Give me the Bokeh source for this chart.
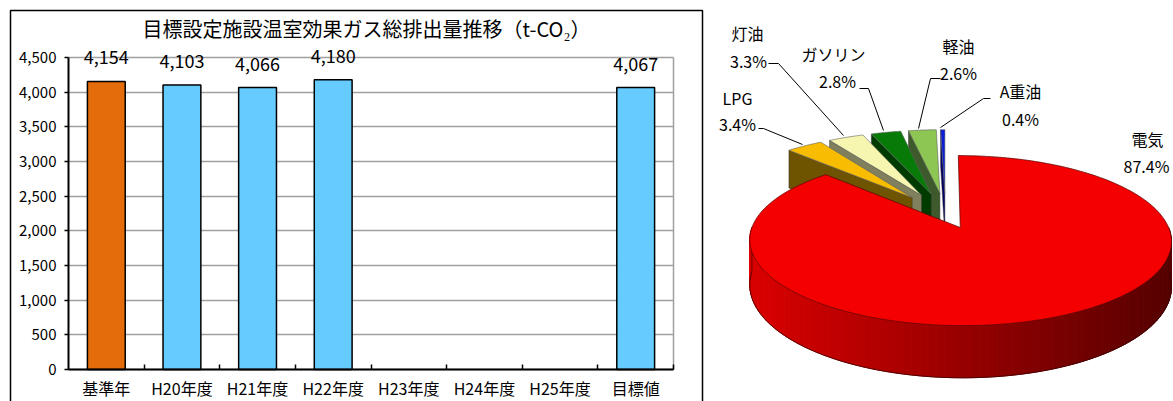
import math
from bokeh.plotting import figure
from bokeh.models import (Range1d, FixedTicker, LinearAxis, NumeralTickFormatter, LabelSet,
                          ColumnDataSource, Grid)
from bokeh.core.properties import value
from bokeh.embed import file_html
from bokeh.resources import INLINE

FONT = "Noto Sans CJK JP"

# ---------------- data ----------------
title_text = "目標設定施設温室効果ガス総排出量推移（t-CO₂）"
categories = ["基準年", "H20年度", "H21年度", "H22年度", "H23年度", "H24年度", "H25年度", "目標値"]
emissions = [4154, 4103, 4066, 4180, None, None, None, 4067]
bar_colors = ["#E46C0A", "#66CCFF", "#66CCFF", "#66CCFF", None, None, None, "#66CCFF"]
y_ticks = [0, 500, 1000, 1500, 2000, 2500, 3000, 3500, 4000, 4500]

pie_labels = ["電気", "LPG", "灯油", "ガソリン", "軽油", "A重油"]
pie_shares = [87.4, 3.4, 3.3, 2.8, 2.6, 0.4]

# ---------------- layout / styles (pixels) ----------------
W, H = 1173, 401
FL, FR, FT, FB = 68, 673, 57, 369          # bar plot area
pie_top_colors = ["#F40000", "#F8BC00", "#F6F6B0", "#087A08", "#8DC653", "#0A1ED8"]
pie_cut_colors = ["#700000", "#6E5400", "#80805E", "#003C00", "#3E5A2C", "#000066"]
pie_explode = [0.185, 0.27, 0.27, 0.27, 0.27, 0.27]
name_pos = [(1147, 138), (737, 97), (747, 32), (833, 53), (958, 45), (1020, 90)]
pct_pos = [(1146, 165), (737, 123), (748, 60), (837, 80), (958, 72), (1020, 118)]
leaders = [None,
           [(758, 128), (763, 128), (802, 144)],
           [(768, 63), (778, 63), (843, 135)],
           [(859, 88), (868, 88), (883, 130)],
           [(940, 78), (930, 78), (918, 128)],
           [(990, 98), (983, 98), (940, 127)]]

n = len(categories)
ymax = y_ticks[-1]
xpp = n / (FR - FL)
ypp = ymax / (FB - FT)

p = figure(width=W, height=H,
           x_range=Range1d(-FL * xpp, n + (W - FR) * xpp),
           y_range=Range1d(-(H - FB) * ypp, ymax + FT * ypp),
           x_axis_location=None, y_axis_location=None, toolbar_location=None,
           output_backend="svg", min_border=0, outline_line_color=None)
p.center = [r for r in p.center if not isinstance(r, Grid)]
p.extra_x_ranges = {"px": Range1d(0, W)}
p.extra_y_ranges = {"px": Range1d(H, 0)}
PXR = dict(x_range_name="px", y_range_name="px")

# outer frame of the bar chart
p.line([10, 10, 702, 702], [H + 5, 10, 10, H + 5], line_color="black", line_width=1.5, **PXR)

# ---------------- bar chart ----------------
centers = [i + 0.5 for i in range(n)]

p.add_layout(Grid(dimension=1, ticker=FixedTicker(ticks=y_ticks), cross_bounds=(0, n),
                  grid_line_color="#A0A0A0", grid_line_width=1.5))
p.add_layout(Grid(dimension=0, ticker=FixedTicker(ticks=[n]), cross_bounds=(0, ymax),
                  grid_line_color="#A0A0A0", grid_line_width=1.5))

yaxis = LinearAxis(fixed_location=0, bounds=(0, ymax),
                   ticker=FixedTicker(ticks=y_ticks), formatter=NumeralTickFormatter(format="0,0"),
                   major_tick_in=0, major_tick_out=4, minor_tick_line_color=None,
                   axis_line_color="black", axis_line_width=2,
                   major_tick_line_color="black", major_tick_line_width=1.5,
                   major_label_text_font=FONT, major_label_text_font_size="15px",
                   major_label_text_color="black", major_label_standoff=8)
p.add_layout(yaxis, "left")

xaxis = LinearAxis(fixed_location=0, bounds=(0, n),
                   ticker=FixedTicker(ticks=centers, minor_ticks=list(range(1, n + 1))),
                   major_label_overrides={c: cat for c, cat in zip(centers, categories)},
                   major_tick_in=0, major_tick_out=0, minor_tick_in=5, minor_tick_out=0,
                   axis_line_color="black", axis_line_width=2,
                   minor_tick_line_color="black", minor_tick_line_width=1.5,
                   major_label_text_font=FONT, major_label_text_font_size="16px",
                   major_label_text_color="black", major_label_standoff=6)
p.add_layout(xaxis, "below")

idx = [i for i, v in enumerate(emissions) if v is not None]
bar_src = ColumnDataSource(dict(
    x=[centers[i] for i in idx],
    top=[emissions[i] for i in idx],
    color=[bar_colors[i] for i in idx],
    label=[f"{emissions[i]:,}" for i in idx],
))
p.vbar(x="x", top="top", bottom=0, width=0.5, fill_color="color",
       line_color="black", line_width=1.5, source=bar_src)
p.add_layout(LabelSet(x="x", y="top", text="label", source=bar_src, y_offset=24,
                      text_align="center", text_baseline="middle",
                      text_font=value(FONT), text_font_size="18px", text_color="black"))

p.text(x=[366], y=[28], text=[title_text], text_font=value(FONT), text_font_size="20px",
       text_align="center", text_baseline="middle", text_color="black", **PXR)

# ---------------- 3D pie ----------------
PX, PY, A, B, K, D = 945.0, 213.2, 203.0, 78.8, 0.15, 43.0


def proj(u, v, drop=0.0):
    s = 1 + K * v
    return PX + A * u / s, PY - B * v / s + drop / s


total = sum(pie_shares)
slices = []
a = 90.0
for i, s in enumerate(pie_shares):
    span = s / total * 360.0
    th0, th1 = a, a - span
    mid = math.radians((th0 + th1) / 2)
    ou, ov = pie_explode[i] * math.cos(mid), pie_explode[i] * math.sin(mid)
    slices.append((th0, th1, ou, ov))
    a = th1


def arc(th0, th1, ou, ov, drop=0.0, steps=80):
    pts = []
    for j in range(steps + 1):
        t = math.radians(th0 + (th1 - th0) * j / steps)
        pts.append(proj(ou + math.cos(t), ov + math.sin(t), drop))
    return pts


# small slices, back to front
for i in range(len(pie_shares) - 1, 0, -1):
    th0, th1, ou, ov = slices[i]
    ax, ay = proj(ou, ov)
    bx, by = proj(ou, ov, D)
    t = math.radians(th0)
    o1 = proj(ou + math.cos(t), ov + math.sin(t))
    o2 = proj(ou + math.cos(t), ov + math.sin(t), D)
    p.patch([ax, o1[0], o2[0], bx], [ay, o1[1], o2[1], by],
            fill_color=pie_cut_colors[i], line_color="#303030", line_width=0.5, **PXR)
    top = [(ax, ay)] + arc(th0, th1, ou, ov, steps=20)
    p.patch([q[0] for q in top], [q[1] for q in top], fill_color=pie_top_colors[i],
            line_color="#606060", line_width=0.6, **PXR)

# big slice: shaded side wall
th0, th1, ou, ov = slices[0]
side_top = arc(0.0, -180.0, ou, ov, steps=90)
side_bot = arc(0.0, -180.0, ou, ov, drop=D, steps=90)
xs, ys, cols = [], [], []
for j in range(len(side_top) - 1):
    xm = (side_top[j][0] + side_top[j + 1][0]) / 2
    tt = min(max((xm - 750.0) / 422.0, 0.0), 1.0)
    r = int(round(218 * (1 - tt) + 85 * tt))
    c = "#%02X0000" % r
    xs.append([side_top[j][0], side_top[j + 1][0], side_bot[j + 1][0], side_bot[j][0]])
    ys.append([side_top[j][1], side_top[j + 1][1], side_bot[j + 1][1], side_bot[j][1]])
    cols.append(c)
p.patches(xs, ys, fill_color=cols, line_color=cols, line_width=1, **PXR)
p.line([q[0] for q in side_bot], [q[1] for q in side_bot], line_color="#3A0000", line_width=0.8, **PXR)
p.line([side_top[-1][0], side_bot[-1][0]], [side_top[-1][1], side_bot[-1][1]],
       line_color="#3A0000", line_width=0.6, **PXR)

ax, ay = proj(ou, ov)
top = [(ax, ay)] + arc(th0, th1, ou, ov, steps=240)
p.patch([q[0] for q in top], [q[1] for q in top], fill_color=pie_top_colors[0],
        line_color="#5A0000", line_width=0.7, **PXR)

# leader lines and labels
for ld in leaders:
    if ld:
        p.line([q[0] for q in ld], [q[1] for q in ld], line_color="black", line_width=1, **PXR)

p.text(x=[q[0] for q in name_pos], y=[q[1] for q in name_pos], text=pie_labels,
       text_font=value(FONT), text_font_size="16px", text_align="center",
       text_baseline="middle", text_color="black", **PXR)
p.text(x=[q[0] for q in pct_pos], y=[q[1] for q in pct_pos],
       text=[f"{s}%" for s in pie_shares],
       text_font=value(FONT), text_font_size="16px", text_align="center",
       text_baseline="middle", text_color="black", **PXR)

open("out.html", "w").write(file_html(p, INLINE))
